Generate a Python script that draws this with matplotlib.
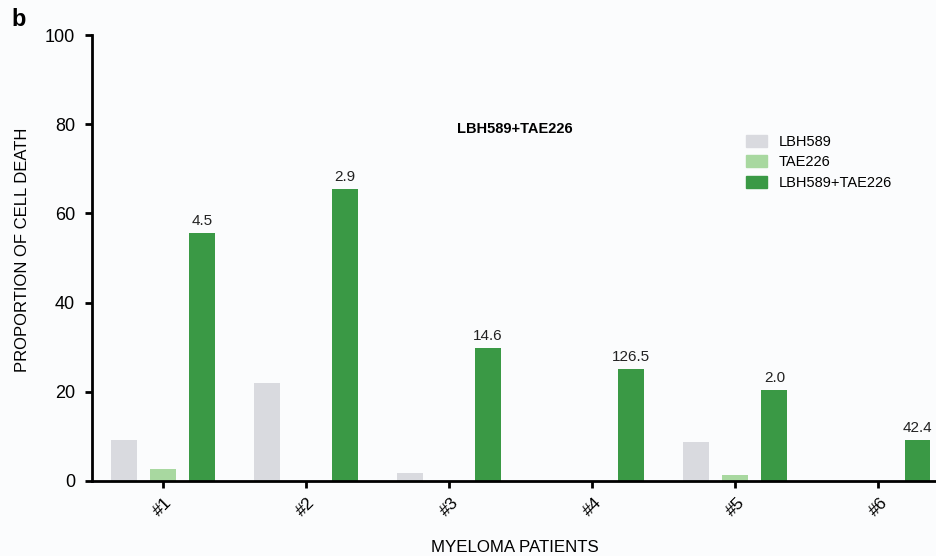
import numpy as np
import matplotlib.pyplot as plt
from matplotlib.patches import Patch

plt.rcParams['font.family'] = ['Liberation Sans', 'DejaVu Sans']

patients = ['#1', '#2', '#3', '#4', '#5', '#6']
lbh589 = [9.2, 22.0, 1.8, 0.0, 8.7, 0.0]
tae226 = [2.7, 0.0, 0.0, 0.0, 1.3, 0.0]
combo = [55.6, 65.5, 29.8, 25.1, 20.4, 9.2]
combo_labels = ['4.5', '2.9', '14.6', '126.5', '2.0', '42.4']

c_lbh = '#d9dadf'
c_tae = '#a8d8a0'
c_combo = '#3a9945'
bg = '#fbfcfd'

fig = plt.figure(figsize=(9.37, 5.56), dpi=100, facecolor=bg)
ax = fig.add_axes([0.098, 0.135, 0.902, 0.802], facecolor=bg)

x = np.arange(len(patients))
w = 0.18
off = 0.273
ax.bar(x - off, lbh589, w, color=c_lbh)
ax.bar(x, tae226, w, color=c_tae)
bars = ax.bar(x + off, combo, w, color=c_combo)

# fold-change values over the combination bars
for b, lab in zip(bars, combo_labels):
    ax.text(b.get_x() + b.get_width() / 2, b.get_height() + 1.1, lab,
            ha='center', va='bottom', fontsize=11, color='#222222')

ax.set_xlim(-0.497, 5.41)
ax.set_ylim(0, 100)
ax.set_yticks([0, 20, 40, 60, 80, 100])
ax.set_xticks(x)
ax.set_xticklabels(patients, rotation=45, ha='center', fontsize=12.5)
ax.tick_params(axis='y', labelsize=13, width=2, length=5, pad=7)
ax.tick_params(axis='x', width=2, length=5, pad=5)

for s in ['top', 'right']:
    ax.spines[s].set_visible(False)
for s in ['left', 'bottom']:
    ax.spines[s].set_linewidth(2)

ax.set_ylabel('PROPORTION OF CELL DEATH', fontsize=12)
ax.yaxis.set_label_coords(-0.073, 0.518)
ax.set_xlabel('MYELOMA PATIENTS', fontsize=12.2)
ax.xaxis.set_label_coords(0.5, -0.132)

ax.text(0.5, 0.79, 'LBH589+TAE226', transform=ax.transAxes,
        ha='center', va='center', fontsize=10.5, fontweight='bold')

handles = [Patch(color=c_lbh, label='LBH589'),
           Patch(color=c_tae, label='TAE226'),
           Patch(color=c_combo, label='LBH589+TAE226')]
ax.legend(handles=handles, loc='upper left', bbox_to_anchor=(0.758, 0.806),
          frameon=False, fontsize=10.5, handlelength=1.5, handleheight=0.9,
          labelspacing=0.45, handletextpad=0.75)

fig.text(0.012, 0.985, 'b', fontsize=17, fontweight='bold', va='top')

fig.savefig('out.png', dpi=100, facecolor=bg)
